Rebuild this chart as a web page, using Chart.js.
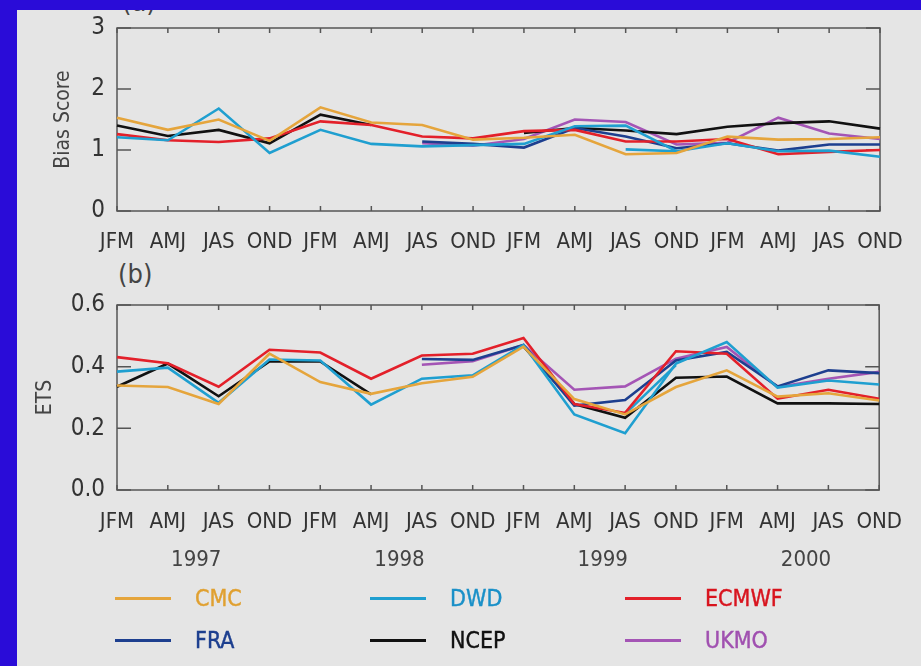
<!DOCTYPE html>
<html>
<head>
<meta charset="utf-8">
<script src="https://cdn.jsdelivr.net/npm/chart.js@4.4.1/dist/chart.umd.min.js"></script>
<style>
html, body { margin: 0; padding: 0; }
body {
    width: 921px; height: 666px; position: relative; overflow: hidden;
    background: #2a0cd8;
    font-family: 'Liberation Sans Narrow', 'DejaVu Sans Condensed', 'Liberation Sans', sans-serif;
}
#panel { position: absolute; left: 17px; top: 10px; width: 904px; height: 656px; background: #e5e5e5; overflow: hidden; }
.tag { position: absolute; font-size: 27px; color: #444; }
#topBox { position: absolute; left: 0; top: 10px; width: 921px; height: 250px; }
#botBox { position: absolute; left: 0; top: 260px; width: 921px; height: 320px; }
#legend { position: absolute; left: 0; top: 0; width: 921px; height: 666px; pointer-events: none; }
.item { position: absolute; height: 26px; }
.item .swatch { position: absolute; left: 0; top: 12px; width: 56px; height: 3px; }
.item .name { position: absolute; top: 0; font-size: 23px; line-height: 26px; -webkit-text-stroke: 0.4px; }
</style>
</head>
<body>
<div id="panel">
    <div class="tag" style="left:105px; top:-24px;">(a)</div>
    <div class="tag" style="left:101px; top:248px;">(b)</div>
</div>
<div id="topBox"><canvas id="biasChart"></canvas></div>
<div id="botBox"><canvas id="etsChart"></canvas></div>
<div id="legend"></div>

<script>
// Season labels along the x axis
const seasons = ['JFM','AMJ','JAS','OND','JFM','AMJ','JAS','OND',
                 'JFM','AMJ','JAS','OND','JFM','AMJ','JAS','OND'];
const years = ['1997', '1998', '1999', '2000'];

const centres = ['CMC', 'DWD', 'ECMWF', 'FRA', 'NCEP', 'UKMO'];
const lineColors = ['#e5a53c', '#1f9fd0', '#e3202a', '#1d3f8f', '#111111', '#a455b5'];
const textColors = ['#e0a030', '#1a90c8', '#d8141e', '#1d3f8f', '#111111', '#a050b0'];

// (a) Bias score
const biasTicks = [0, 1, 2, 3];
const biasCMC   = [1.53, 1.33, 1.50, 1.15, 1.70, 1.45, 1.41, 1.17, 1.20, 1.25, 0.93, 0.95, 1.22, 1.17, 1.18, 1.21];
const biasDWD   = [1.21, 1.16, 1.68, 0.95, 1.33, 1.10, 1.06, 1.08, 1.10, 1.39, 1.40, 0.98, 1.11, 0.98, 0.99, 0.89];
const biasDWD2  = [null, null, null, null, null, null, null, null, null, null, 1.01, 0.98, null, null, null, null];
const biasECMWF = [1.26, 1.16, 1.13, 1.19, 1.47, 1.41, 1.22, 1.19, 1.31, 1.33, 1.14, 1.14, 1.18, 0.93, 0.97, 1.00];
const biasFRA   = [null, null, null, null, null, null, 1.14, 1.10, 1.04, 1.36, 1.22, 1.03, 1.11, 0.99, 1.09, 1.09];
const biasNCEP  = [1.40, 1.23, 1.33, 1.11, 1.58, 1.41, null, null, 1.28, 1.36, 1.32, 1.26, 1.38, 1.44, 1.47, 1.35];
const biasUKMO  = [null, null, null, null, null, null, 1.11, 1.07, 1.18, 1.50, 1.46, 1.09, 1.12, 1.53, 1.27, 1.18];

// (b) Equitable threat score
const etsTicks = [0.0, 0.2, 0.4, 0.6];
const etsCMC   = [0.339, 0.334, 0.279, 0.442, 0.350, 0.312, 0.346, 0.367, 0.465, 0.295, 0.245, 0.334, 0.388, 0.303, 0.314, 0.290];
const etsDWD   = [0.384, 0.397, 0.283, 0.423, 0.420, 0.277, 0.361, 0.372, 0.470, 0.245, 0.184, 0.410, 0.480, 0.332, 0.355, 0.342];
const etsDWD2  = [null, null, null, null, null, null, null, null, null, null, 0.247, 0.405, null, null, null, null];
const etsECMWF = [0.431, 0.411, 0.335, 0.455, 0.446, 0.361, 0.436, 0.442, 0.493, 0.279, 0.250, 0.450, 0.442, 0.296, 0.325, 0.296];
const etsFRA   = [null, null, null, null, null, null, 0.425, 0.422, 0.470, 0.274, 0.292, 0.420, 0.448, 0.336, 0.388, 0.379];
const etsNCEP  = [0.335, 0.410, 0.304, 0.417, 0.417, 0.310, null, null, 0.466, 0.279, 0.234, 0.364, 0.368, 0.281, 0.281, 0.279];
const etsUKMO  = [null, null, null, null, null, null, 0.406, 0.418, 0.470, 0.325, 0.336, 0.426, 0.464, 0.334, 0.361, 0.383];

const FONT = "'Liberation Sans Narrow', 'DejaVu Sans Condensed', 'Liberation Sans', sans-serif";
const AXIS = '#555';

// box frame and inward tick marks, IDL style
const boxTicks = {
    id: 'boxTicks',
    beforeDatasetsDraw(chart) {
        const { ctx, chartArea: a, scales: { x, y } } = chart;
        ctx.save();
        ctx.strokeStyle = AXIS;
        ctx.lineWidth = 1.5;
        ctx.strokeRect(a.left, a.top, a.width, a.height);
        ctx.beginPath();
        x.ticks.forEach((t, i) => {
            const px = x.getPixelForTick(i);
            ctx.moveTo(px, a.bottom); ctx.lineTo(px, a.bottom - 5);
            ctx.moveTo(px, a.top); ctx.lineTo(px, a.top + 5);
        });
        y.ticks.forEach((t, i) => {
            const py = y.getPixelForTick(i);
            ctx.moveTo(a.left, py); ctx.lineTo(a.left + 14, py);
            ctx.moveTo(a.right, py); ctx.lineTo(a.right - 14, py);
        });
        ctx.stroke();
        ctx.restore();
    }
};

// year labels under the season ticks of the lower panel
const yearLabels = {
    id: 'yearLabels',
    afterDraw(chart) {
        const { ctx, scales: { x } } = chart;
        ctx.save();
        ctx.font = '22px ' + FONT;
        ctx.fillStyle = '#444';
        ctx.textAlign = 'center';
        ctx.textBaseline = 'middle';
        years.forEach((yr, k) => {
            ctx.fillText(yr, x.getPixelForValue(k * 4 + 1.5) + 3, 300);
        });
        ctx.restore();
    }
};

function makeSets(series) {
    return series.map((data, i) => ({
        label: centres[i],
        data: data,
        borderColor: lineColors[i],
        borderWidth: 2.6,
        pointRadius: 0,
        tension: 0,
        spanGaps: false
    }));
}

function makeChart(id, series, extra, ticks, title, titlePad, padTop, xHeight, labelPad, fmt, plugins) {
    const sets = makeSets(series);
    sets.push({
        label: 'DWD (2)',
        data: extra,
        borderColor: lineColors[1],
        borderWidth: 2.6,
        pointRadius: 0,
        tension: 0
    });
    return new Chart(document.getElementById(id), {
        type: 'line',
        data: { labels: seasons, datasets: sets },
        options: {
            responsive: true,
            maintainAspectRatio: false,
            animation: false,
            layout: { padding: { top: padTop, right: 41, left: 0, bottom: 0 } },
            plugins: { legend: { display: false }, tooltip: { enabled: false } },
            scales: {
                x: {
                    offset: false,
                    grid: { display: false, drawTicks: false },
                    border: { display: false },
                    ticks: { color: '#333', padding: labelPad, maxRotation: 0, autoSkip: false,
                             font: { family: FONT, size: 22 } },
                    afterFit(scale) { scale.height = xHeight; }
                },
                y: {
                    min: ticks[0],
                    max: ticks[ticks.length - 1],
                    grid: { display: false, drawTicks: false },
                    border: { display: false },
                    afterBuildTicks(scale) { scale.ticks = ticks.map(v => ({ value: v })); },
                    ticks: { color: '#333', padding: 12, font: { family: FONT, size: 24 },
                             callback: fmt },
                    title: { display: true, text: title, color: '#444',
                             font: { family: FONT, size: 21 }, padding: { top: titlePad, bottom: 0 } },
                    afterFit(scale) {
                        scale.width = 117;
                        scale.paddingTop = 0;
                        scale.paddingBottom = 0;
                    }
                }
            }
        },
        plugins: plugins
    });
}

makeChart('biasChart',
    [biasCMC, biasDWD, biasECMWF, biasFRA, biasNCEP, biasUKMO], biasDWD2,
    biasTicks, 'Bias Score', 51, 18, 49, 18, v => String(v), [boxTicks]);

makeChart('etsChart',
    [etsCMC, etsDWD, etsECMWF, etsFRA, etsNCEP, etsUKMO], etsDWD2,
    etsTicks, 'ETS', 33, 45, 90, 19, v => v.toFixed(1), [boxTicks, yearLabels]);

// legend, three columns by two rows
const legend = document.getElementById('legend');
const colX = [115, 370, 625];
const rowY = [585, 627];
centres.forEach((name, i) => {
    const item = document.createElement('div');
    item.className = 'item';
    item.style.left = colX[i % 3] + 'px';
    item.style.top = rowY[Math.floor(i / 3)] + 'px';
    item.innerHTML = '<div class="swatch" style="background:' + lineColors[i] + '"></div>' +
        '<div class="name" style="left:80px; color:' + textColors[i] + '">' + name + '</div>';
    legend.appendChild(item);
});
</script>
</body>
</html>
